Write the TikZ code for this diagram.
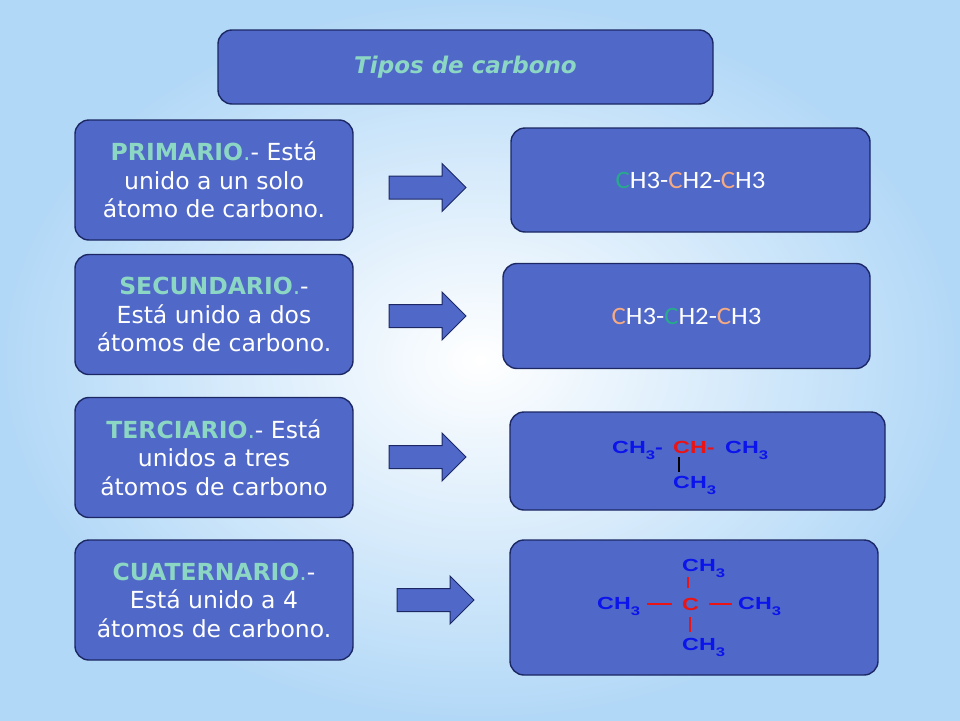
\documentclass[tikz,border=0pt]{standalone}
\usepackage{fontspec}
\setmainfont{DejaVu Sans}
\newfontfamily\fontequim{Liberation Sans}
\newfontfamily\fontecadeia{Carlito}
\usetikzlibrary{calc}
\definecolor{azulcaja}{RGB}{80,104,200}
\definecolor{borde}{RGB}{28,40,100}
\definecolor{verdeagua}{RGB}{140,214,196}
\definecolor{verdec}{RGB}{40,170,140}
\definecolor{naranjac}{RGB}{245,170,130}
\definecolor{azulq}{RGB}{10,20,235}
\definecolor{rojoq}{RGB}{235,20,20}
\definecolor{fondo}{RGB}{178,216,247}
\tikzset{caja/.style={draw=borde,fill=azulcaja,line width=1.4pt,rounded corners=14pt,text=white,inner sep=0pt}}
\tikzset{tipo/.style={caja,minimum width=278pt,minimum height=120pt,align=center,font=\fontsize{23.5}{28.5}\selectfont}}
\tikzset{flecha/.style={draw=borde,fill=azulcaja,line width=1pt,line join=miter}}
\tikzset{quim/.style={text=#1,inner sep=0pt,anchor=base west,font=\fontequim\bfseries\fontsize{17.5}{17.5}\selectfont},quim/.default=azulq}
\tikzset{enlace/.style={draw=#1,line width=2pt},enlace/.default=rojoq}
\newcommand{\subindice}[1]{\raisebox{-6pt}{\fontsize{12.5}{12.5}\selectfont #1}}
\newcommand{\esticado}[1]{\scalebox{1.33}[1]{#1}}
\newcommand{\chtres}{\esticado{CH\subindice{3}}}

\begin{document}
\begin{tikzpicture}[x=1pt,y=-1pt]
	\useasboundingbox (0,0) rectangle (960,720);
	\shade[inner color=white,outer color=fondo] (0,0) rectangle (960,720);

	% Titulo
	\node[caja,minimum width=495pt,minimum height=74pt,text=verdeagua,
		font=\bfseries\itshape\fontsize{23}{23}\selectfont] (T) at (465.5,67) {Tipos de carbono};

	% Tipos
	\node[tipo] (P) at (214,180) {\textcolor{verdeagua}{\textbf{PRIMARIO}.}- Está\\unido a un solo\\átomo de carbono.};
	\node[tipo] (S) at (214,314.5) {\textcolor{verdeagua}{\textbf{SECUNDARIO}.}-\\Está unido a dos\\átomos de carbono.};
	\node[tipo] (Te) at (214,457.5) {\textcolor{verdeagua}{\textbf{TERCIARIO}.}- Está\\unidos a tres\\átomos de carbono};
	\node[tipo] (Cu) at (214,600) {\textcolor{verdeagua}{\textbf{CUATERNARIO}.}-\\Está unido a 4\\átomos de carbono.};

	% Flechas
	\foreach \nome/\px/\py in {a1/427.5/187.5,a2/427.5/316,a3/427.5/457,a4/435.5/600}{
		\coordinate (\nome) at (\px,\py);
		\draw[flecha,shift={(\nome)}] (-38.5,-11.5) -- (14.5,-11.5) -- (14.5,-24) -- (38.5,0)
			-- (14.5,24) -- (14.5,11.5) -- (-38.5,11.5) -- cycle;
	}

	% Ejemplos
	\node[caja,minimum width=359pt,minimum height=104pt,font=\fontecadeia\fontsize{25}{25}\selectfont] (E1) at (690.5,180)
		{\scalebox{1.07}[1]{\textcolor{verdec}{C}H3-\textcolor{naranjac}{C}H2-\textcolor{naranjac}{C}H3}};
	\node[caja,minimum width=367pt,minimum height=105pt,font=\fontecadeia\fontsize{25}{25}\selectfont] (E2) at (686.5,316)
		{\scalebox{1.07}[1]{\textcolor{naranjac}{C}H3-\textcolor{verdec}{C}H2-\textcolor{naranjac}{C}H3}};
	\node[caja,minimum width=375pt,minimum height=98pt] (E3) at (697.5,461) {};
	\node[caja,minimum width=368pt,minimum height=135pt] (E4) at (694,607.5) {};

	% Terciario
	\node[quim] (m1) at (612,453) {\esticado{CH\subindice{3}-}};
	\node[quim=rojoq] (m2) at (673,453) {\esticado{CH-}};
	\node[quim] (m3) at (725,453) {\chtres};
	\node[quim] (m4) at (673,488) {\chtres};
	\draw[enlace=black,shorten <=4pt,shorten >=4pt] ([xshift=6pt]m2.south west) -- ([xshift=6pt]m4.north west);

	% Cuaternario
	\node[quim] (n4) at (682,571) {\chtres};
	\node[quim] (o4) at (597,609) {\chtres};
	\node[quim=rojoq] (c4) at (682,610) {\esticado{C}};
	\node[quim] (e4) at (738,609) {\chtres};
	\node[quim] (s4) at (682,650) {\chtres};
	\draw[enlace,shorten >=10pt] ([xshift=6pt]n4.south west) -- ([xshift=6pt]c4.north west);
	\draw[enlace,shorten <=7pt,shorten >=6pt] ([xshift=8pt]c4.south west) -- ([xshift=8pt]s4.north west);
	\draw[enlace,shorten <=7pt,shorten >=10pt] (c4.west -| o4.east) -- (c4.west);
	\draw[enlace,shorten <=10pt,shorten >=6pt] (c4.east) -- (c4.east -| e4.west);
\end{tikzpicture}
\end{document}
